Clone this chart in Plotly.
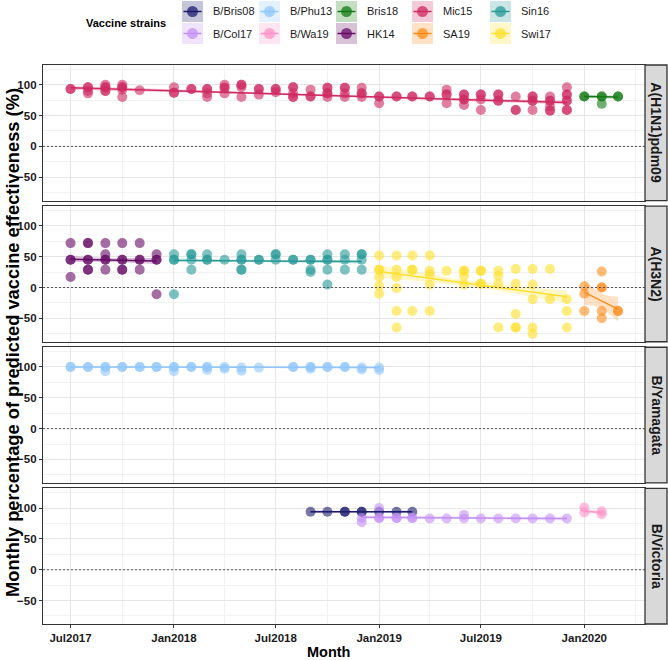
import plotly.graph_objects as go
import pandas as pd
import numpy as np

# ---------------- data ----------------
SUBTYPES = ["A(H1N1)pdm09", "A(H3N2)", "B/Yamagata", "B/Victoria"]

STRAINS = ["B/Bris08", "B/Col17", "B/Phu13", "B/Wa19", "Bris18",
           "HK14", "Mic15", "SA19", "Sin16", "Swi17"]
STRAIN_SUBTYPE = ["B/Victoria", "B/Victoria", "B/Yamagata", "B/Victoria", "A(H1N1)pdm09",
                  "A(H3N2)", "A(H1N1)pdm09", "A(H3N2)", "A(H3N2)", "A(H3N2)"]
STRAIN_COLORS = ["#1c1c6e", "#c490f5", "#8fc6fb", "#ff92c8", "#137a13",
                 "#650a65", "#cf2a62", "#ff8c1a", "#279a98", "#ffdf2a"]

# fitted linear trend (start / end value) and CI half-widths
TREND_START = [94, 85, 100, 95, 81, 46, 95, -8, 44, 26]
TREND_END = [94, 83, 99, 93, 80, 43, 71, -35, 42, -15]
CI_END = [2, 3, 1.5, 4, 3, 5, 3, 20, 3, 10]
CI_MID = [1, 1.5, 0.8, 3, 2, 3, 1.5, 12, 1.5, 5]

MIC15_MONTHS = ["2017-07", "2017-08", "2017-09", "2017-10", "2017-11",
                "2018-01", "2018-02", "2018-03", "2018-04", "2018-05", "2018-06",
                "2018-07", "2018-08", "2018-09", "2018-10", "2018-11", "2018-12",
                "2019-01", "2019-02", "2019-03", "2019-04", "2019-05", "2019-06",
                "2019-07", "2019-08", "2019-09", "2019-10", "2019-11", "2019-12"]
MIC15_VE = [[93, 93], [96, 96, 90, 86], [100, 96, 96, 90, 90], [100, 96, 96, 92, 80], [91],
            [96, 87, 87], [93, 93], [93, 93, 86, 80], [100, 95, 95, 86], [100, 100, 96, 80], [93, 93, 84],
            [93, 93, 88], [96, 96, 86, 80, 80], [92, 81, 81], [95, 95, 86, 86, 80], [95, 95, 86, 80], [95, 86, 86, 80],
            [81, 81, 70], [81, 81], [81, 81], [81, 81], [92, 84, 84, 70], [84, 84, 76, 76, 67],
            [84, 84, 76, 59], [84, 84, 74, 74], [81, 59, 59], [81, 81, 74, 74, 59], [81, 74, 74, 65, 58, 58],
            [96, 84, 84, 74, 74, 59, 59]]

BRIS18_MONTHS = ["2020-01", "2020-02", "2020-03"]
BRIS18_VE = [[81, 81], [81, 81, 69], [81, 81]]

HK14_MONTHS = ["2017-07", "2017-08", "2017-09", "2017-10", "2017-11", "2017-12"]
HK14_VE = [[72, 45, 45, 17], [72, 72, 45, 45, 29, 29], [72, 54, 45, 45, 29],
           [72, 45, 45, 29, 29], [72, 45, 45, 29], [54, 45, 45, -11]]

SIN16_MONTHS = ["2018-01", "2018-02", "2018-03", "2018-04", "2018-05", "2018-06",
                "2018-07", "2018-08", "2018-09", "2018-10", "2018-11", "2018-12"]
SIN16_VE = [[54, 45, 45, -11], [54, 54, 45, 29], [54, 45, 45], [45], [54, 45, 45, 29, 29], [45, 45],
            [54, 54, 45], [45, 45], [45, 45, 29, 25], [54, 45, 45, 29, 5], [54, 45, 29], [54, 54, 45, 29]]

SWI17_MONTHS = ["2019-01", "2019-02", "2019-03", "2019-04", "2019-05", "2019-06",
                "2019-07", "2019-08", "2019-09", "2019-10", "2019-11", "2019-12"]
SWI17_VE = [[52, 29, 29, 17, 3, -10], [52, 29, 17, -1, -38, -65], [52, 29, 29, -38], [52, 27, 21, 5, -38],
            [27], [27, 27, 19, 5], [27, 27, 6, 6], [27, 19, 6, -65], [30, 6, -43, -65, -65],
            [30, 5, -19, -65, -75], [30, -19], [-19, -38, -65]]

SA19_MONTHS = ["2020-01", "2020-02", "2020-03"]
SA19_VE = [[2, -10, -38], [26, 0, 0, -38, -50], [-38, -38]]

PHU13_MONTHS = ["2017-07", "2017-08", "2017-09", "2017-10", "2017-11", "2017-12",
                "2018-01", "2018-02", "2018-03", "2018-04", "2018-05", "2018-06",
                "2018-08", "2018-09", "2018-10", "2018-11", "2018-12", "2019-01"]
PHU13_VE = [[100, 100], [100, 100], [100, 100, 93], [100, 100], [100, 100], [100, 100],
            [100, 100, 93], [100, 100], [100, 100, 95], [100, 97], [99, 94], [99],
            [100, 100], [100, 100, 97], [100, 100], [100, 100], [99, 96], [99, 95]]

BRIS08_MONTHS = ["2018-09", "2018-10", "2018-11", "2018-12", "2019-01", "2019-02", "2019-03"]
BRIS08_VE = [[94], [94], [94, 94], [94, 94], [94], [94], [94]]

COL17_MONTHS = ["2018-12", "2019-01", "2019-02", "2019-03", "2019-04", "2019-05", "2019-06",
                "2019-07", "2019-08", "2019-09", "2019-10", "2019-11", "2019-12"]
COL17_VE = [[84, 77], [100, 84, 84], [84, 84], [84, 84], [83], [83], [89, 83],
            [83], [83], [83], [83], [83], [83]]

WA19_MONTHS = ["2020-01", "2020-02"]
WA19_VE = [[101, 93], [95, 90]]

Y_TICKS = [-50, 0, 50, 100]
Y_MINOR = [-75, -25, 25, 75, 125]
X_RANGE = ["2017-05-13", "2020-04-18"]
Y_RANGE = [-88, 132]

MONTHS = {"B/Bris08": BRIS08_MONTHS, "B/Col17": COL17_MONTHS, "B/Phu13": PHU13_MONTHS,
          "B/Wa19": WA19_MONTHS, "Bris18": BRIS18_MONTHS, "HK14": HK14_MONTHS,
          "Mic15": MIC15_MONTHS, "SA19": SA19_MONTHS, "Sin16": SIN16_MONTHS, "Swi17": SWI17_MONTHS}
VALUES = {"B/Bris08": BRIS08_VE, "B/Col17": COL17_VE, "B/Phu13": PHU13_VE,
          "B/Wa19": WA19_VE, "Bris18": BRIS18_VE, "HK14": HK14_VE,
          "Mic15": MIC15_VE, "SA19": SA19_VE, "Sin16": SIN16_VE, "Swi17": SWI17_VE}

# ---------------- geometry ----------------
W, H = 668, 660
PLOT_L, PLOT_R, PLOT_T, PLOT_B = 43, 645, 65, 624   # panel area in window pixels
ML, MR, MT, MB = PLOT_L, W - PLOT_R, PLOT_T, H - PLOT_B
PW, PH = PLOT_R - PLOT_L, PLOT_B - PLOT_T
GAP = 5.5
PANEL_H = (PH - 3 * GAP) / 4
FONT = "Liberation Sans, Arial, sans-serif"
BORDER = "#333333"


def px_x(px):
    return (px - PLOT_L) / PW


def px_y(py):
    return (PLOT_B - py) / PH


def rgba(hx, a):
    hx = hx.lstrip("#")
    r, g, b = int(hx[0:2], 16), int(hx[2:4], 16), int(hx[4:6], 16)
    return f"rgba({r},{g},{b},{a})"


def panel_domain(p):  # p = 1 (top) .. 4 (bottom)
    top = (p - 1) * (PANEL_H + GAP)
    bottom = top + PANEL_H
    return [1 - bottom / PH, 1 - top / PH]


def suf(p):
    return "" if p == 1 else str(p)


fig = go.Figure()

# ribbons (confidence bands)
for i, s in enumerate(STRAINS):
    p = SUBTYPES.index(STRAIN_SUBTYPE[i]) + 1
    start = pd.Timestamp(MONTHS[s][0] + "-01")
    end = pd.Timestamp(MONTHS[s][-1] + "-01")
    t = np.linspace(0, 1, 40)
    dates = pd.to_datetime(start.value + (end.value - start.value) * t)
    center = TREND_START[i] + (TREND_END[i] - TREND_START[i]) * t
    hw = np.sqrt(CI_MID[i] ** 2 + (CI_END[i] ** 2 - CI_MID[i] ** 2) * (2 * t - 1) ** 2)
    xs = list(dates) + list(dates[::-1])
    ys = list(center + hw) + list((center - hw)[::-1])
    fig.add_trace(go.Scatter(x=xs, y=ys, fill="toself", fillcolor=rgba(STRAIN_COLORS[i], 0.25),
                             line=dict(width=0), mode="lines", hoverinfo="skip", showlegend=False,
                             xaxis="x" + suf(p), yaxis="y" + suf(p)))

# points
for i, s in enumerate(STRAINS):
    p = SUBTYPES.index(STRAIN_SUBTYPE[i]) + 1
    xs, ys = [], []
    for m, vals in zip(MONTHS[s], VALUES[s]):
        for v in vals:
            xs.append(m + "-01")
            ys.append(v)
    fig.add_trace(go.Scatter(x=xs, y=ys, mode="markers", name=s, showlegend=False,
                             marker=dict(size=10, color=STRAIN_COLORS[i], opacity=0.6, line=dict(width=0)),
                             xaxis="x" + suf(p), yaxis="y" + suf(p)))

# trend lines
for i, s in enumerate(STRAINS):
    p = SUBTYPES.index(STRAIN_SUBTYPE[i]) + 1
    fig.add_trace(go.Scatter(x=[MONTHS[s][0] + "-01", MONTHS[s][-1] + "-01"],
                             y=[TREND_START[i], TREND_END[i]], mode="lines", showlegend=False,
                             line=dict(color=STRAIN_COLORS[i], width=1.5), hoverinfo="skip",
                             xaxis="x" + suf(p), yaxis="y" + suf(p)))

layout = dict(width=W, height=H, margin=dict(l=ML, r=MR, t=MT, b=MB, pad=0, autoexpand=False),
              plot_bgcolor="white", paper_bgcolor="white", showlegend=False,
              font=dict(family=FONT, color="#1a1a1a"))
shapes, annotations = [], []
tickfont = dict(family=FONT, size=11.5, color="#1a1a1a", weight="bold")
for p in range(1, 5):
    dom = panel_domain(p)
    xa = dict(type="date", range=X_RANGE, domain=[0, 1], anchor="y" + suf(p),
              showline=True, mirror=True, linecolor=BORDER, linewidth=1.3,
              showgrid=True, gridcolor="#e6e6e6", gridwidth=1,
              tick0="2017-07-01", dtick="M6", tickformat="%b%Y",
              minor=dict(dtick="M3", tick0="2017-07-01", showgrid=True, gridcolor="#f2f2f2", gridwidth=0.8),
              ticks="outside" if p == 4 else "", ticklen=3, tickcolor=BORDER,
              showticklabels=(p == 4), tickfont=tickfont, zeroline=False)
    if p > 1:
        xa["matches"] = "x"
    ya = dict(domain=dom, anchor="x" + suf(p), range=Y_RANGE, tickvals=Y_TICKS,
              ticks="outside", ticklen=3, tickcolor=BORDER,
              showline=True, mirror=True, linecolor=BORDER, linewidth=1.3,
              showgrid=True, gridcolor="#e6e6e6", gridwidth=1,
              minor=dict(tickvals=Y_MINOR, showgrid=True, gridcolor="#f2f2f2", gridwidth=0.8),
              zeroline=False, tickfont=tickfont)
    layout["xaxis" + suf(p)] = xa
    layout["yaxis" + suf(p)] = ya
    # dotted zero line
    shapes.append(dict(type="line", xref="x" + suf(p) + " domain", x0=0, x1=1,
                       yref="y" + suf(p), y0=0, y1=0,
                       line=dict(color="#555555", width=1, dash="2px,2px")))
    # facet strip
    shapes.append(dict(type="rect", xref="paper", yref="paper", x0=1.0, x1=px_x(667),
                       y0=dom[0], y1=dom[1], fillcolor="#d9d9d9", line=dict(color=BORDER, width=1.3)))
    annotations.append(dict(text=SUBTYPES[p - 1], xref="paper", yref="paper", x=px_x(656.5),
                            y=(dom[0] + dom[1]) / 2, textangle=90, showarrow=False,
                            xanchor="center", yanchor="middle",
                            font=dict(family=FONT, size=14, color="#1a1a1a", weight="bold")))

# axis titles
annotations.append(dict(text="Monthly percentage of predicted vaccine effectiveness (%)",
                        xref="paper", yref="paper", x=px_x(12), y=px_y(343), textangle=-90,
                        showarrow=False, xanchor="center", yanchor="middle",
                        font=dict(family=FONT, size=18.3, color="#000000", weight="bold")))
annotations.append(dict(text="Month", xref="paper", yref="paper", x=px_x(328), y=px_y(652),
                        showarrow=False, xanchor="center", yanchor="middle",
                        font=dict(family=FONT, size=14.5, color="#000000", weight="bold")))

# legend (drawn as keys + text at the top)
LEGEND_ORDER = ["B/Bris08", "B/Col17", "B/Phu13", "B/Wa19", "Bris18",
                "HK14", "Mic15", "SA19", "Sin16", "Swi17"]
LEG_COL_X = [182, 259, 336, 412, 490]
LEG_ROW_Y = [11.5, 33.5]
KEY = 21
annotations.append(dict(text="Vaccine strains", xref="paper", yref="paper", x=px_x(168), y=px_y(23),
                        showarrow=False, xanchor="right", yanchor="middle",
                        font=dict(family=FONT, size=11, color="#000000", weight="bold")))
for j, s in enumerate(LEGEND_ORDER):
    c = STRAIN_COLORS[STRAINS.index(s)]
    kx = LEG_COL_X[j // 2]
    ky = LEG_ROW_Y[j % 2]
    shapes.append(dict(type="rect", xref="paper", yref="paper", x0=px_x(kx), x1=px_x(kx + KEY),
                       y0=px_y(ky + KEY / 2), y1=px_y(ky - KEY / 2), fillcolor=rgba(c, 0.25),
                       line=dict(width=0)))
    cx = kx + KEY / 2
    shapes.append(dict(type="line", xref="paper", yref="paper", x0=px_x(kx + 1.5), x1=px_x(kx + KEY - 1.5),
                       y0=px_y(ky), y1=px_y(ky), line=dict(color=c, width=1.5)))
    r = 5.5
    shapes.append(dict(type="circle", xref="paper", yref="paper", x0=px_x(cx - r), x1=px_x(cx + r),
                       y0=px_y(ky + r), y1=px_y(ky - r), fillcolor=rgba(c, 0.75), line=dict(width=0)))
    annotations.append(dict(text=s, xref="paper", yref="paper", x=px_x(kx + 28.5), y=px_y(ky),
                            showarrow=False, xanchor="left", yanchor="middle",
                            font=dict(family=FONT, size=11, color="#1a1a1a")))

layout["shapes"] = shapes
layout["annotations"] = annotations
fig.update_layout(**layout)
# remove the browser's default page margin so the figure sits at the window's corner
fig.write_html("out.html", config={"displayModeBar": False},
               post_script="document.body.style.margin='0px';document.body.style.overflow='hidden';")
